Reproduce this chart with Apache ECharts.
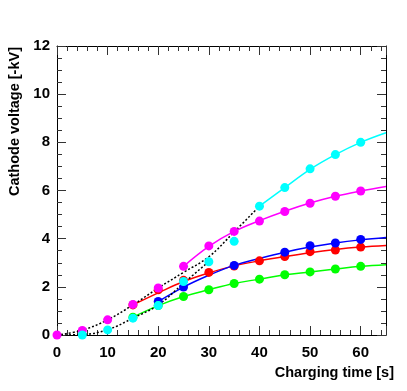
<!DOCTYPE html>
<html>
<head>
<meta charset="utf-8">
<script src="https://cdn.jsdelivr.net/npm/echarts@6/dist/echarts.min.js"></script>
<style>
    html, body { margin: 0; padding: 0; background: #fff; }
    #chart { width: 407px; height: 391px; }
</style>
</head>
<body>
<div id="chart"></div>
<script>
// measured points (charging time [s] / cathode voltage [-kV])
let magentaTime = [0, 5, 10, 15, 20, 25, 30, 35, 40, 45, 50, 55, 60];
let magentaVolt = [0, 0.19, 0.63, 1.27, 1.95, 2.85, 3.7, 4.3, 4.73, 5.13, 5.47, 5.76, 5.98];
let cyanTime = [5, 10, 15, 20, 25, 30, 35, 40, 45, 50, 55, 60];
let cyanVolt = [0.0, 0.21, 0.7, 1.22, 2.22, 3.04, 3.89, 5.35, 6.12, 6.9, 7.49, 8.0];
let redTime = [15, 20, 25, 30, 35, 40, 45, 50, 55, 60];
let redVolt = [1.25, 1.88, 2.27, 2.6, 2.86, 3.08, 3.26, 3.46, 3.53, 3.65];
let blueTime = [20, 25, 35, 45, 50, 55, 60];
let blueVolt = [1.39, 1.99, 2.89, 3.44, 3.71, 3.82, 3.97];
let greenTime = [15, 20, 25, 30, 35, 40, 45, 50, 55, 60];
let greenVolt = [0.74, 1.22, 1.6, 1.88, 2.14, 2.32, 2.5, 2.62, 2.74, 2.85];

// fitted curves
let magentaFitTime = [25, 30, 35, 40, 45, 50, 55, 60, 65];
let magentaFitVolt = [2.85, 3.68, 4.3, 4.75, 5.14, 5.48, 5.76, 5.98, 6.17];
let cyanFitTime = [40, 45, 50, 55, 60, 65];
let cyanFitVolt = [5.35, 6.12, 6.88, 7.49, 8.0, 8.4];
let redFitTime = [15, 20, 25, 30, 35, 40, 45, 50, 55, 60, 65];
let redFitVolt = [1.25, 1.75, 2.22, 2.58, 2.87, 3.08, 3.26, 3.42, 3.55, 3.65, 3.72];
let blueFitTime = [20, 25, 30, 35, 40, 45, 50, 55, 60, 65];
let blueFitVolt = [1.39, 1.99, 2.48, 2.89, 3.18, 3.44, 3.65, 3.82, 3.95, 4.05];
let greenFitTime = [15, 20, 25, 30, 35, 40, 45, 50, 55, 60, 65];
let greenFitVolt = [0.74, 1.22, 1.6, 1.88, 2.14, 2.32, 2.5, 2.62, 2.74, 2.85, 2.92];

// dotted curves of the early phase
let dotATime = [0, 5, 10, 15, 20, 25, 30, 35, 40];
let dotAVolt = [0, 0.2, 0.63, 1.25, 1.95, 2.6, 3.25, 4.28, 5.35];
let dotBTime = [0, 5, 10, 15, 20, 25, 30];
let dotBVolt = [0, 0.02, 0.22, 0.7, 1.25, 2.15, 3.05];

let xMajorLabels = [0, 10, 20, 30, 40, 50, 60];
let yMajorLabels = [0, 2, 4, 6, 8, 10, 12];

let zip = (xs, ys) => xs.map((x, i) => [x, ys[i]]);

let fontName = 'Liberation Sans';
let myChart = echarts.init(document.getElementById('chart'));

let xBase = (pos, major, labels) => ({
    type: 'value',
    position: pos,
    min: 0,
    max: 65,
    interval: major ? 10 : 2,
    axisLine: { show: major, onZero: false, lineStyle: { color: '#000', width: 1 } },
    axisTick: { show: true, inside: true, length: major ? 9 : 5, lineStyle: { color: '#333' } },
    axisLabel: {
        show: labels,
        margin: 10,
        color: '#000',
        fontFamily: fontName,
        fontWeight: 'bold',
        fontSize: 15,
        formatter: function (v) {
            return xMajorLabels.indexOf(v) >= 0 ? String(v) : '';
        }
    },
    splitLine: { show: false }
});

let yBase = (pos, labels) => ({
    type: 'value',
    position: pos,
    min: 0,
    max: 12,
    interval: 2,
    axisLine: { show: true, onZero: false, lineStyle: { color: '#000', width: 1 } },
    axisTick: { show: true, inside: true, length: 9, lineStyle: { color: '#333' } },
    minorTick: { show: true, splitNumber: 4, length: 5, lineStyle: { color: '#333' } },
    axisLabel: {
        show: labels,
        margin: 7,
        color: '#000',
        fontFamily: fontName,
        fontWeight: 'bold',
        fontSize: 15,
        formatter: function (v) {
            return yMajorLabels.indexOf(v) >= 0 ? String(v) : '';
        }
    },
    splitLine: { show: false }
});

let pointSeries = (time, volt, color) => ({
    type: 'scatter',
    data: zip(time, volt),
    symbol: 'circle',
    symbolSize: 9,
    itemStyle: { color: color, opacity: 1 },
    z: 5
});

let fitSeries = (time, volt, color) => ({
    type: 'line',
    data: zip(time, volt),
    showSymbol: false,
    smooth: 0.4,
    lineStyle: { color: color, width: 1.5 },
    z: 3
});

let dotSeries = (time, volt) => ({
    type: 'line',
    data: zip(time, volt),
    showSymbol: false,
    smooth: 0.4,
    lineStyle: { color: '#000', width: 1.5, type: [2, 2] },
    z: 4
});

let option = {
    animation: false,
    backgroundColor: '#fff',
    grid: { left: 57, right: 21, top: 46, bottom: 56, containLabel: false },
    xAxis: [
        xBase('bottom', true, true),
        xBase('bottom', false, false),
        xBase('top', true, false),
        xBase('top', false, false)
    ],
    yAxis: [
        yBase('left', true),
        yBase('right', false)
    ],
    graphic: [
        {
            type: 'text',
            right: 13,
            top: 365,
            style: {
                text: 'Charging time [s]',
                fill: '#000',
                font: 'bold 14.5px "Liberation Sans"'
            }
        },
        {
            type: 'text',
            x: 15,
            y: 47,
            rotation: Math.PI / 2,
            style: {
                text: 'Cathode voltage [-kV]',
                fill: '#000',
                font: 'bold 14.5px "Liberation Sans"',
                align: 'right',
                verticalAlign: 'middle',
                textAlign: 'right',
                textVerticalAlign: 'middle'
            }
        }
    ],
    series: [
        fitSeries(redFitTime, redFitVolt, '#ff0000'),
        fitSeries(blueFitTime, blueFitVolt, '#0000ff'),
        fitSeries(greenFitTime, greenFitVolt, '#00ff00'),
        fitSeries(magentaFitTime, magentaFitVolt, '#ff00ff'),
        fitSeries(cyanFitTime, cyanFitVolt, '#00ffff'),
        dotSeries(dotATime, dotAVolt),
        dotSeries(dotBTime, dotBVolt),
        pointSeries(redTime, redVolt, '#ff0000'),
        pointSeries(blueTime, blueVolt, '#0000ff'),
        pointSeries(greenTime, greenVolt, '#00ff00'),
        pointSeries(magentaTime, magentaVolt, '#ff00ff'),
        pointSeries(cyanTime, cyanVolt, '#00ffff')
    ]
};
myChart.setOption(option);
</script>
</body>
</html>
